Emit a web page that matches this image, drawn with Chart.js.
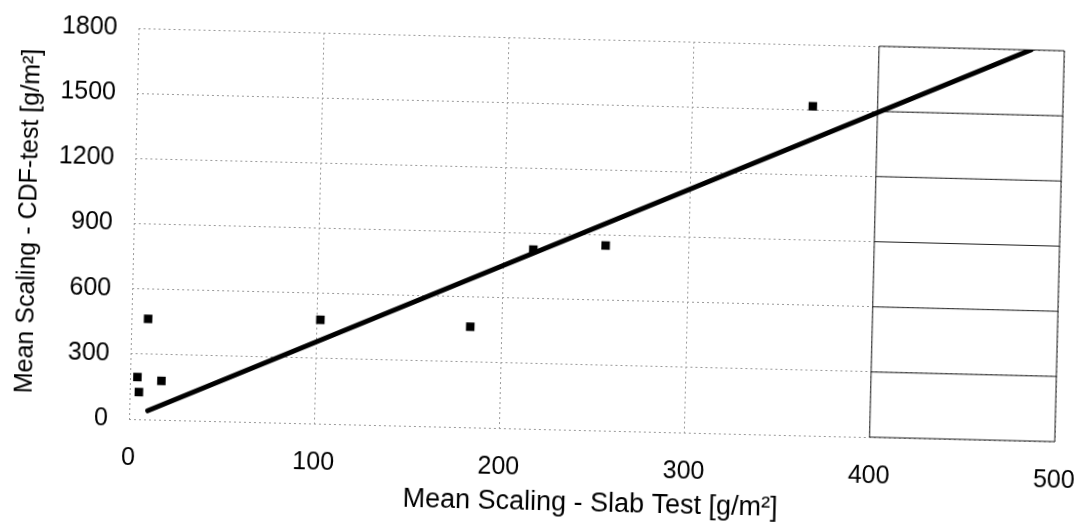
<!DOCTYPE html>
<html>
<head>
<meta charset="utf-8">
<script src="https://cdn.jsdelivr.net/npm/chart.js@4/dist/chart.umd.min.js"></script>
<style>
    html, body { margin: 0; padding: 0; background: #fff; overflow: hidden; }
    /* le scan d'origine est légèrement tourné */
    #cadre { width: 1081px; height: 532px; transform-origin: 129px 419px; transform: rotate(1.4deg); }
</style>
</head>
<body>
<div id="cadre"><canvas id="graphique-scaling" width="1081" height="532"></canvas></div>
<script>
// Valeurs
const slabTest = [9, 4, 17, 5, 102, 183, 216, 255, 365];
const cdfTest = [463, 194, 179, 125, 478, 463, 825, 852, 1516];
const trendX = [10, 482];
const trendY = [40, 1800];
const xTicks = [0, 100, 200, 300, 400, 500];
const yTicks = [0, 300, 600, 900, 1200, 1500, 1800];

const police = 'Arial, "Liberation Sans", sans-serif';

// Cadre plein à droite (400-500), comme sur le scan
const cadreDroit = {
    id: 'cadreDroit',
    beforeDatasetsDraw(chart) {
        const { ctx, scales: { x, y } } = chart;
        const x1 = x.getPixelForValue(400), x2 = x.getPixelForValue(500);
        ctx.save();
        ctx.strokeStyle = '#222';
        ctx.lineWidth = 1;
        ctx.beginPath();
        yTicks.forEach(v => {
            const py = y.getPixelForValue(v);
            ctx.moveTo(x1, py);
            ctx.lineTo(x2, py);
        });
        [x1, x2].forEach(px => {
            ctx.moveTo(px, y.getPixelForValue(0));
            ctx.lineTo(px, y.getPixelForValue(1800));
        });
        ctx.stroke();
        ctx.restore();
    }
};

new Chart(document.getElementById('graphique-scaling').getContext('2d'), {
    type: 'scatter',
    data: {
        datasets: [{
            label: 'Mesures',
            data: slabTest.map((v, i) => ({ x: v, y: cdfTest[i] })),
            pointStyle: 'rect',
            pointRadius: 6,
            backgroundColor: '#000',
            borderColor: '#000',
            borderWidth: 0
        }, {
            label: 'Tendance',
            data: trendX.map((v, i) => ({ x: v, y: trendY[i] })),
            showLine: true,
            pointRadius: 0,
            borderColor: '#000',
            borderWidth: 5,
            borderCapStyle: 'round'
        }]
    },
    options: {
        responsive: false,
        animation: false,
        layout: { padding: { top: 28, right: 26, left: 0, bottom: 0 } },
        scales: {
            x: {
                type: 'linear',
                min: 0,
                max: 500,
                afterBuildTicks: s => { s.ticks = xTicks.map(v => ({ value: v })); },
                // taille fixe de l'axe, sans marge ajoutée pour les étiquettes
                afterFit: s => { s.height = 113; s.paddingLeft = 0; s.paddingRight = 0; },
                border: { display: false, dash: [2, 3] },
                grid: { color: '#999', lineWidth: 1, drawTicks: false },
                ticks: { padding: 24, color: '#000', font: { family: police, size: 25 }, callback: v => String(v) },
                title: {
                    display: true,
                    text: 'Mean Scaling - Slab Test [g/m²]',
                    color: '#000',
                    font: { family: police, size: 27 },
                    padding: { top: 0, bottom: 23 }
                }
            },
            y: {
                min: 0,
                max: 1800,
                afterBuildTicks: s => { s.ticks = yTicks.map(v => ({ value: v })); },
                afterFit: s => { s.width = 129; s.paddingTop = 0; s.paddingBottom = 0; },
                border: { display: false, dash: [2, 3] },
                grid: { color: '#999', lineWidth: 1, drawTicks: false },
                ticks: { padding: 21, color: '#000', font: { family: police, size: 25 }, callback: v => String(v) },
                title: {
                    display: true,
                    text: 'Mean Scaling - CDF-test [g/m²]',
                    color: '#000',
                    font: { family: police, size: 25 },
                    padding: { top: 9, bottom: 0 }
                }
            }
        },
        plugins: {
            legend: { display: false },
            tooltip: { enabled: false }
        }
    },
    plugins: [cadreDroit]
});
</script>
</body>
</html>
